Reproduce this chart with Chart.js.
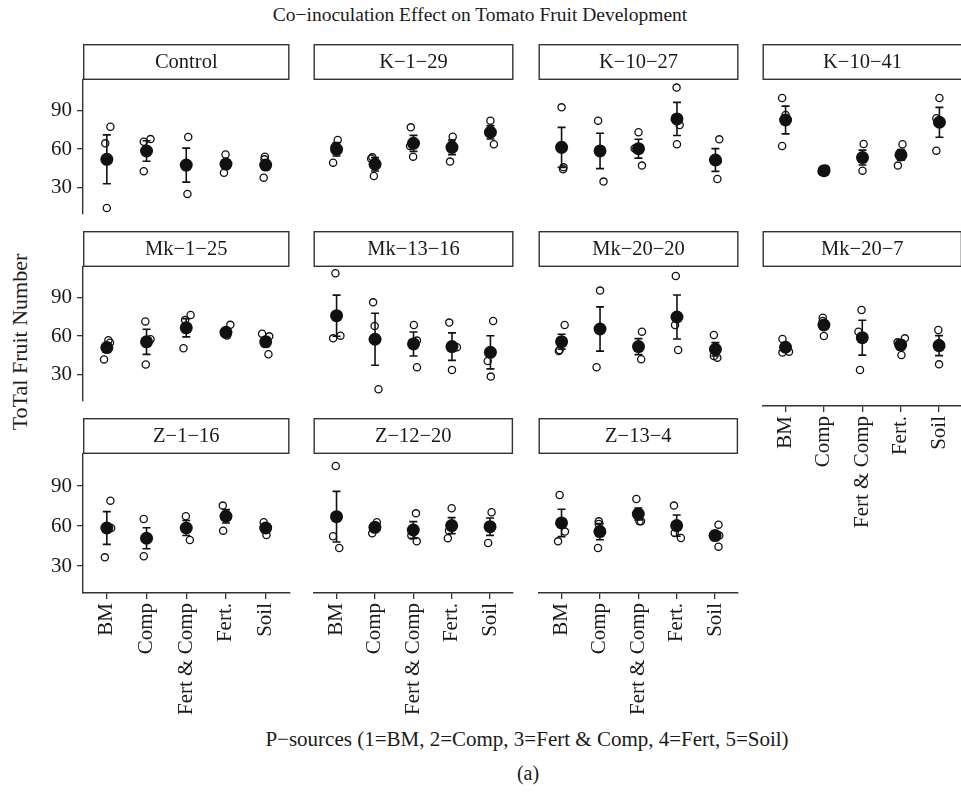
<!DOCTYPE html>
<html>
<head>
<meta charset="utf-8">
<script src="https://cdn.jsdelivr.net/npm/chart.js@4/dist/chart.umd.min.js"></script>
<style>
  html, body { margin: 0; padding: 0; background: #fff; overflow: hidden; }
  #wrap { position: relative; width: 961px; height: 797px; overflow: hidden;
          font-family: "Liberation Serif", "Times New Roman", serif; color: #1a1a1a; }
  #wrap canvas { position: absolute; }
  .lbl { position: absolute; white-space: nowrap; line-height: 1; }
</style>
</head>
<body>
<div id="wrap">
  <div class="lbl" id="title" style="font-size:19.5px; left:480px; top:15px; transform:translate(-50%,-50%);">Co−inoculation Effect on Tomato Fruit Development</div>
  <div class="lbl" id="ylab" style="font-size:22px; left:20px; top:342px; transform:translate(-50%,-50%) rotate(-90deg);">ToTal Fruit Number</div>
  <div class="lbl" id="xlab" style="font-size:21px; left:527px; top:739px; transform:translate(-50%,-50%);">P−sources (1=BM, 2=Comp, 3=Fert &amp; Comp, 4=Fert, 5=Soil)</div>
  <div class="lbl" id="sub" style="font-size:20px; left:528px; top:773px; transform:translate(-50%,-50%);">(a)</div>
</div>
<script>
// P-source treatments on the x axis
const categories = ['BM', 'Comp', 'Fert & Comp', 'Fert.', 'Soil'];

// Bacterial inoculants, one facet each
const strains = ['Control', 'K−1−29', 'K−10−27', 'K−10−41',
                 'Mk−1−25', 'Mk−13−16', 'Mk−20−20', 'Mk−20−7',
                 'Z−1−16', 'Z−12−20', 'Z−13−4'];

const yTicks = [30, 60, 90];

// Mean total fruit number per strain (rows) and P-source (columns)
const meanFruit = [
  [52.0, 58.5, 47.5, 48.3, 47.5],
  [62.0, 50.8, 66.5, 63.5, 74.8],
  [63.5, 60.8, 62.5, 84.8, 54.0],
  [84.0, 46.0, 55.8, 57.8, 82.3],
  [51.0, 55.5, 66.5, 63.0, 55.5],
  [77.5, 59.8, 56.3, 54.3, 50.0],
  [58.0, 67.5, 54.3, 76.5, 52.3],
  [53.8, 70.5, 61.0, 55.5, 55.0],
  [58.5, 50.8, 58.5, 67.3, 58.5],
  [67.0, 59.0, 57.0, 60.3, 59.5],
  [62.3, 55.8, 69.0, 60.3, 52.8]
];

// Standard error of the mean, same layout
const seFruit = [
  [19.1, 8.0, 13.3, 3.0, 3.5],
  [5.0, 5.0, 6.0, 5.5, 5.0],
  [15.0, 13.3, 7.1, 12.4, 8.5],
  [10.4, 1.5, 5.6, 4.0, 11.2],
  [3.5, 9.8, 7.1, 2.5, 3.5],
  [15.4, 19.5, 9.0, 10.3, 12.4],
  [5.6, 16.6, 6.0, 16.5, 5.0],
  [2.5, 3.0, 13.1, 3.5, 7.5],
  [12.3, 7.9, 5.6, 5.0, 2.5],
  [19.0, 3.0, 6.3, 6.0, 6.5],
  [10.3, 6.1, 4.5, 8.0, 3.5]
];

// Fruit number of the individual plants
const plantFruit = [
  [[64.5, 77.5, 14.0], [65.7, 67.8, 42.7], [69.5, 25.0], [55.8, 41.5], [54.0, 52.0, 37.7]],
  [[69.0, 52.0, 64.0], [56.0, 42.0, 55.0], [78.5, 64.5, 56.5], [71.5, 52.8, 66.0], [83.5, 65.8, 75.0]],
  [[93.5, 48.5, 47.0], [83.5, 37.8], [74.8, 62.7, 49.8], [108.3, 80.3, 65.8], [69.5, 39.8, 53.0]],
  [[100.5, 87.8, 64.5], [45.0, 47.5, 46.0], [66.0, 46.0], [65.8, 49.8], [100.5, 85.3, 61.0]],
  [[56.8, 54.8, 41.8], [71.5, 57.5, 37.8], [76.5, 72.5, 50.5], [68.8, 60.5, 61.5], [61.8, 59.8, 45.8]],
  [[109.3, 60.5, 62.5], [87.5, 69.8, 22.3], [70.5, 58.8, 38.8], [72.3, 53.8, 36.8], [73.5, 43.5, 31.8]],
  [[70.5, 51.8, 51.0], [96.3, 38.8], [65.5, 44.8], [107.3, 70.5, 51.8], [63.0, 47.3, 46.0]],
  [[60.0, 49.8, 50.5], [76.0, 73.5, 62.3], [81.8, 65.5, 36.8], [57.5, 60.5, 48.0], [66.8, 41.0, 57.0]],
  [[79.0, 58.5, 36.5], [65.3, 37.3], [67.3, 49.5], [75.3, 56.5], [62.8, 53.3, 59.0]],
  [[105.0, 52.3, 43.5], [62.8, 54.5, 60.0], [69.5, 52.8, 48.5], [73.3, 50.8, 56.5], [70.3, 47.3]],
  [[83.3, 55.8, 48.5], [63.5, 61.5, 43.5], [80.3, 63.5, 63.5], [75.3, 54.8, 51.0], [61.0, 52.8, 44.5]]
];

// Horizontal jitter of each plant (in category units)
const plantJitter = [
  [[-0.04, 0.09, 0.00], [-0.07, 0.10, -0.07], [0.05, 0.03], [-0.01, -0.05], [-0.02, -0.03, -0.05]],
  [[0.03, -0.09, -0.05], [-0.07, -0.03, -0.10], [-0.07, -0.09, -0.01], [0.02, -0.05, 0.00], [0.00, 0.09, -0.01]],
  [[0.00, 0.05, 0.04], [-0.05, 0.09], [0.00, -0.10, 0.09], [-0.01, 0.07, 0.00], [0.10, 0.05, 0.06]],
  [[-0.09, 0.00, -0.09], [-0.06, 0.05, 0.00], [0.03, 0.00], [0.04, -0.08], [0.00, -0.08, -0.08]],
  [[0.04, 0.08, -0.07], [-0.03, 0.10, -0.02], [0.11, -0.03, -0.07], [0.11, 0.03, -0.03], [-0.09, 0.09, 0.07]],
  [[-0.03, -0.09, 0.10], [-0.05, -0.01, 0.09], [0.01, 0.09, 0.09], [-0.07, 0.13, 0.00], [0.07, -0.07, 0.01]],
  [[0.08, -0.05, -0.07], [0.00, -0.09], [0.09, 0.07], [-0.03, -0.05, 0.03], [-0.04, -0.04, 0.05]],
  [[-0.08, -0.08, 0.09], [-0.03, -0.03, 0.00], [-0.02, -0.10, -0.06], [-0.08, 0.11, 0.02], [-0.02, 0.00, 0.00]],
  [[0.09, 0.11, -0.05], [-0.07, -0.07], [-0.01, 0.09], [-0.08, -0.07], [-0.05, 0.02, 0.05]],
  [[-0.02, -0.09, 0.07], [0.05, -0.07, 0.03], [0.07, -0.05, 0.09], [0.00, -0.10, -0.07], [0.04, -0.05]],
  [[-0.05, 0.09, -0.09], [-0.03, -0.03, -0.05], [-0.05, 0.07, 0.03], [-0.07, -0.05, 0.11], [0.09, 0.11, 0.09]]
];

const INK = '#111';
const LINE = '#333';
const SERIF = '"Liberation Serif", "Times New Roman", serif';

// facet geometry: strip tops per row, panel left edges per column
const PANEL_W = 213, PANEL_H = 139, STRIP_H = 36;
const COL_X = [83, 307, 532, 756];
const ROW_Y = [44, 231, 418];
const XAXIS_H = 140;

// strip label box above each panel
const stripPlugin = {
  id: 'strip',
  afterDraw(chart, args, opts) {
    const { ctx, chartArea: a } = chart;
    ctx.save();
    ctx.fillStyle = '#fff';
    ctx.strokeStyle = LINE;
    ctx.lineWidth = 1.4;
    const top = a.top - STRIP_H + 0.7;
    ctx.fillRect(a.left, top, a.right - a.left, STRIP_H - 0.7);
    ctx.strokeRect(a.left + 0.7, top, a.right - a.left - 1.4, STRIP_H - 1.4);
    ctx.fillStyle = '#1a1a1a';
    ctx.font = '20.5px ' + SERIF;
    ctx.textAlign = 'center';
    ctx.textBaseline = 'middle';
    ctx.fillText(opts.label, (a.left + a.right) / 2, a.top - STRIP_H / 2 + 1);
    ctx.restore();
  }
};

// mean ± SE bars, drawn just before the mean markers
const errorBarPlugin = {
  id: 'errorBars',
  beforeDatasetDraw(chart, args, opts) {
    if (args.index !== 0) return;
    const { ctx, scales: { x, y } } = chart;
    ctx.save();
    ctx.strokeStyle = INK;
    ctx.lineWidth = 1.6;
    opts.means.forEach((m, k) => {
      const px = x.getPixelForValue(k + 1);
      const top = y.getPixelForValue(m + opts.se[k]);
      const bot = y.getPixelForValue(m - opts.se[k]);
      ctx.beginPath();
      ctx.moveTo(px, top); ctx.lineTo(px, bot);
      ctx.moveTo(px - 4, top); ctx.lineTo(px + 4, top);
      ctx.moveTo(px - 4, bot); ctx.lineTo(px + 4, bot);
      ctx.stroke();
    });
    ctx.restore();
  }
};

const wrap = document.getElementById('wrap');

strains.forEach((name, i) => {
  const col = i % 4, row = Math.floor(i / 4);
  const showY = col === 0;
  const showX = row === 2 || (row === 1 && col === 3);
  const yAxisW = showY ? COL_X[0] : 0;
  const left = COL_X[col] - yAxisW;
  const bottomSpace = showX ? XAXIS_H : 12;
  const width = yAxisW + PANEL_W;
  const height = STRIP_H + PANEL_H + bottomSpace;

  const cv = document.createElement('canvas');
  cv.width = width; cv.height = height;
  cv.style.left = left + 'px';
  cv.style.top = ROW_Y[row] + 'px';
  cv.style.width = width + 'px';
  cv.style.height = height + 'px';
  wrap.appendChild(cv);

  const plants = [];
  plantFruit[i].forEach((vals, k) => {
    vals.forEach((v, j) => plants.push({ x: k + 1 + plantJitter[i][k][j], y: v }));
  });
  const means = meanFruit[i].map((m, k) => ({ x: k + 1, y: m }));

  new Chart(cv, {
    type: 'scatter',
    data: {
      datasets: [
        { data: means, pointRadius: 6.5, pointHoverRadius: 6.5,
          backgroundColor: INK, borderColor: INK, borderWidth: 0 },
        { data: plants, pointRadius: 3.6, pointHoverRadius: 3.6,
          backgroundColor: 'rgba(0,0,0,0)', borderColor: INK, borderWidth: 1.3 }
      ]
    },
    options: {
      responsive: false,
      animation: false,
      events: [],
      layout: { padding: { top: STRIP_H, bottom: showX ? 0 : 12, left: 0, right: 0 } },
      plugins: {
        legend: { display: false },
        tooltip: { enabled: false },
        strip: { label: name },
        errorBars: { means: meanFruit[i], se: seFruit[i] }
      },
      scales: {
        x: {
          type: 'linear', min: 0.4, max: 5.6,
          display: showX,
          afterBuildTicks: s => { s.ticks = categories.map((c, k) => ({ value: k + 1 })); },
          afterFit: s => { if (showX) s.height = XAXIS_H; },
          grid: { display: true, drawOnChartArea: false, drawTicks: true, tickLength: 6, color: LINE, lineWidth: 1.3 },
          border: { display: true, color: LINE, width: 1.4 },
          ticks: {
            autoSkip: false, minRotation: 90, maxRotation: 90, padding: 4,
            color: '#1a1a1a', font: { family: SERIF, size: 21 },
            callback: v => categories[v - 1]
          }
        },
        y: {
          type: 'linear', min: 9.75, max: 114,
          display: showY,
          afterBuildTicks: s => { s.ticks = yTicks.map(v => ({ value: v })); },
          afterFit: s => { if (showY) s.width = yAxisW; },
          grid: { display: true, drawOnChartArea: false, drawTicks: true, tickLength: 6, color: LINE, lineWidth: 1.3 },
          border: { display: true, color: LINE, width: 1.4 },
          ticks: { padding: 5, color: '#1a1a1a', font: { family: SERIF, size: 21 } }
        }
      }
    },
    plugins: [stripPlugin, errorBarPlugin]
  });
});
</script>
</body>
</html>
